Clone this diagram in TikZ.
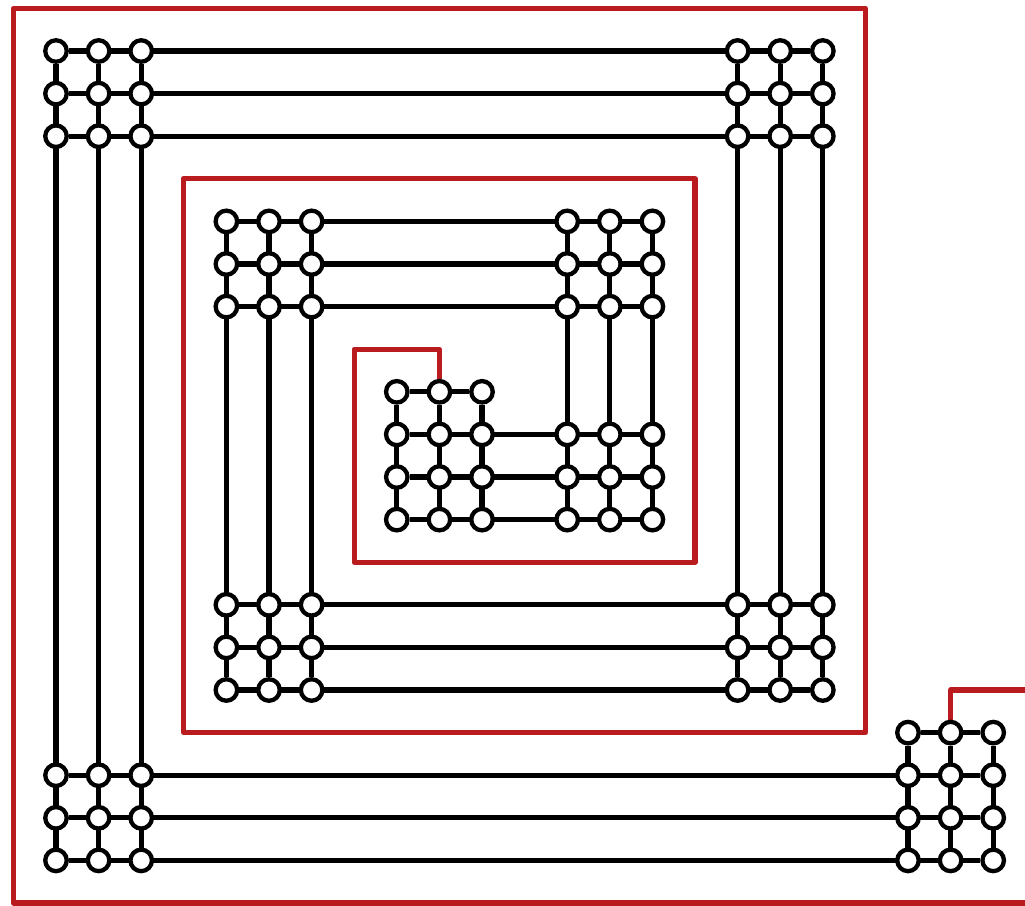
\documentclass[tikz,border=0pt]{standalone}
\usetikzlibrary{calc}
\definecolor{spiralred}{RGB}{185,27,30}
\pgfdeclarelayer{bg}
\pgfsetlayers{bg,main}
\tikzset{
  vtx/.style={circle,draw=black,fill=white,line width=4.3pt,minimum size=21.5pt,inner sep=0pt},
  wire/.style={draw=black,line width=5.2pt},
  redline/.style={draw=spiralred,line width=5.2pt,line join=round}
}
\begin{document}
\begin{tikzpicture}[x=42.6pt,y=-42.6pt]
\useasboundingbox (-1.31455,-1.19718) rectangle (22.7465,20.0469);
% nodes of each cluster: imin/imax/jmin/jmax
\foreach \a/\b/\c/\d in {0/2/0/2,16/18/0/2,0/2/17/19,20/22/16/19,4/6/4/6,12/14/4/6,4/6/13/15,16/18/13/15,8/10/8/11,12/14/9/11}{
  \foreach \i in {\a,...,\b}{
    \foreach \j in {\c,...,\d}{
      \node[vtx] (n-\i-\j) at (\i,\j) {};
    }
  }
}
\begin{pgfonlayer}{bg}
% horizontal connectors: row / first / last
\foreach \j/\s/\e in {0/0/18,1/0/18,2/0/18,4/4/14,5/4/14,6/4/14,8/8/10,9/8/14,10/8/14,11/8/14,13/4/18,14/4/18,15/4/18,16/20/22,17/0/22,18/0/22,19/0/22}{
  \path[wire] (n-\s-\j) -- (n-\e-\j);
}
% vertical connectors: column / first / last
\foreach \i/\s/\e in {0/0/19,1/0/19,2/0/19,4/4/15,5/4/15,6/4/15,8/8/11,9/8/11,10/8/11,12/4/11,13/4/11,14/4/11,16/0/15,17/0/15,18/0/15,20/16/19,21/16/19,22/16/19}{
  \path[wire] (n-\i-\s) -- (n-\i-\e);
}
% red spiral
\path[redline] (n-9-8.north) -- (9,7) -- (7,7) -- (7,12) -- (15,12) -- (15,3) -- (3,3) -- (3,16) -- (19,16) -- (19,-1) -- (-1,-1) -- (-1,20) -- (23.5,20);
\path[redline] (n-21-16.north) -- (21,15) -- (23.5,15);
\end{pgfonlayer}
\end{tikzpicture}
\end{document}
